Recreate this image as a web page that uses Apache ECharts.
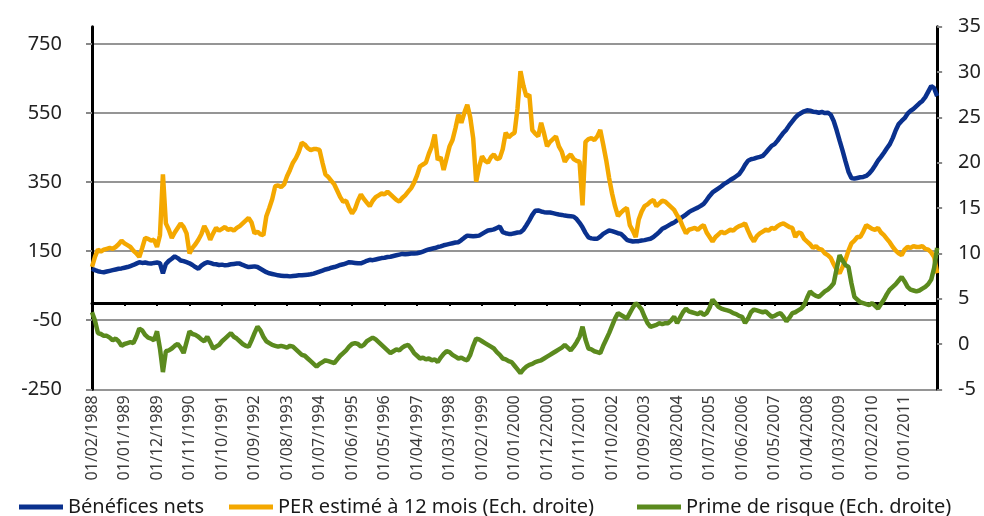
<!DOCTYPE html>
<html>
<head>
<meta charset="utf-8">
<script src="https://cdn.jsdelivr.net/npm/echarts@6/dist/echarts.min.js"></script>
<style>
html,body{margin:0;padding:0;background:#fff;}
#chart{width:984px;height:516px;}
</style>
</head>
<body>
<div id="chart"></div>
<script>
// Monthly categories, Feb 1988 .. Dec 2011
const startYear = 1988, startMonth = 2, nMonths = 287;
const categories = [];
for (let k = 0; k < nMonths; k++) {
  const t = (startMonth - 1) + k;
  const m = t % 12 + 1;
  const y = startYear + Math.floor(t / 12);
  categories.push('01/' + (m < 10 ? '0' + m : m) + '/' + y);
}

const seriesNames = ['Bénéfices nets', 'PER estimé à 12 mois (Ech. droite)', 'Prime de risque (Ech. droite)'];

const leftTicks = [-250, -50, 150, 350, 550, 750];

const benefices = [
99,95,92,90,89,91,93,95,97,99,
100,102,104,107,110,114,118,116,117,115,
114,116,117,115,86,113,122,128,135,130,
123,121,118,115,110,104,99,108,114,118,
116,113,112,110,111,109,110,112,113,114,
114,110,107,104,105,106,104,99,94,89,
86,84,82,80,79,78,78,77,78,79,
80,80,81,82,83,85,88,91,94,97,
99,102,104,107,110,112,115,118,117,116,
115,115,118,122,125,124,126,128,130,131,
133,134,136,138,140,142,141,142,143,143,
144,146,149,152,155,157,159,162,164,167,
169,171,173,175,176,182,189,195,194,193,
194,195,200,205,210,211,213,217,221,205,
202,200,200,202,204,205,212,225,239,255,
267,268,265,263,262,262,260,258,256,255,
253,252,251,250,243,232,219,203,190,187,
186,186,192,200,205,210,208,205,202,200,
192,183,180,178,179,179,181,182,184,186,
191,198,206,215,219,224,229,233,239,244,
250,256,263,268,272,276,281,287,298,310,
320,326,332,338,345,350,356,361,367,373,
385,400,412,416,418,421,423,426,435,445,
455,460,470,482,493,502,515,526,537,545,
550,555,558,557,554,553,551,553,550,551,
545,527,500,470,441,410,380,362,360,362,
364,365,368,375,385,398,412,423,435,448,
460,478,500,518,527,535,548,556,562,570,
578,585,596,612,628,622,599
];

const per = [
8.5,9.6,10.4,10.2,10.4,10.5,10.6,10.5,10.7,11.0,
11.4,11.1,10.9,10.7,10.3,10.0,9.6,10.6,11.7,11.6,
11.4,11.5,10.7,12.0,18.7,13.3,12.6,11.7,12.3,12.8,
13.3,12.9,12.2,10.0,10.6,11.0,11.5,12.1,13.0,12.4,
11.5,12.2,12.8,12.5,12.7,12.9,12.6,12.7,12.5,12.8,
13.0,13.3,13.6,13.9,13.4,12.2,12.4,12.1,12.0,14.1,
15.0,16.0,17.4,17.5,17.3,17.6,18.5,19.2,20.0,20.5,
21.2,22.2,22.0,21.6,21.4,21.5,21.5,21.4,20.0,18.7,
18.4,18.0,17.6,16.9,16.2,15.7,15.8,15.0,14.4,14.9,
15.8,16.5,16.0,15.6,15.2,15.8,16.2,16.4,16.6,16.5,
16.8,16.5,16.2,15.9,15.7,16.1,16.4,16.8,17.2,17.8,
18.6,19.6,19.8,20.0,21.0,21.8,23.1,20.3,20.6,19.2,
20.5,21.8,22.5,23.8,25.3,24.4,25.5,26.4,25.0,22.7,
17.9,19.5,20.7,20.2,20.0,20.6,20.9,20.4,20.5,21.5,
23.3,22.8,23.1,23.3,26.0,30.1,28.5,27.3,27.5,23.6,
23.2,22.9,24.4,23.2,21.8,22.3,22.6,22.9,21.8,21.2,
20.1,20.6,20.9,20.4,20.2,20.1,15.3,22.3,22.6,22.7,
22.5,22.9,23.6,22.0,20.3,18.3,16.6,15.2,14.1,14.5,
14.8,15.0,13.1,12.5,11.8,13.7,14.6,15.2,15.4,15.7,
15.9,15.2,15.5,15.8,15.7,15.4,15.1,14.8,14.2,13.7,
12.9,12.2,12.6,12.7,12.8,12.6,12.9,13.1,12.3,11.8,
11.3,11.8,12.1,12.4,12.2,12.4,12.6,12.5,12.8,13.0,
13.1,13.3,12.5,11.8,11.3,11.9,12.2,12.4,12.6,12.5,
12.8,12.7,13.0,13.2,13.3,13.1,12.9,12.8,11.8,12.3,
12.2,11.6,11.3,11.0,10.6,10.8,10.5,10.4,10.0,9.8,
9.5,8.8,8.2,7.8,8.5,9.3,10.3,11.1,11.4,11.8,
11.8,12.4,13.1,12.9,12.7,12.6,12.8,12.3,12.0,11.6,
11.2,10.7,10.3,10.0,9.8,10.4,10.7,10.6,10.8,10.7,
10.7,10.8,10.5,10.4,10.1,9.6,7.8
];

const prime = [
3.5,2.6,1.2,1.1,0.9,0.9,0.7,0.4,0.6,0.3,
-0.2,0.0,0.1,0.2,0.1,0.8,1.7,1.5,1.0,0.7,
0.6,0.4,1.4,-0.5,-3.1,-0.8,-0.7,-0.5,-0.2,0.0,
-0.4,-1.0,0.2,1.4,1.1,1.0,0.8,0.5,0.3,0.8,
0.2,-0.5,-0.3,-0.1,0.3,0.6,0.9,1.2,0.8,0.6,
0.3,0.0,-0.2,-0.3,0.4,1.2,1.9,1.5,0.8,0.3,
0.1,-0.1,-0.2,-0.3,-0.2,-0.3,-0.4,-0.2,-0.3,-0.6,
-0.9,-1.2,-1.3,-1.6,-1.9,-2.2,-2.5,-2.2,-2.0,-1.8,
-1.9,-2.0,-2.1,-1.7,-1.3,-1.0,-0.7,-0.3,0.0,0.1,
0.0,-0.3,-0.1,0.3,0.5,0.7,0.5,0.2,-0.1,-0.4,
-0.7,-1.0,-0.8,-0.6,-0.7,-0.4,-0.2,-0.1,-0.5,-1.0,
-1.3,-1.6,-1.5,-1.7,-1.6,-1.8,-1.7,-2.0,-1.5,-1.1,
-0.8,-0.9,-1.2,-1.4,-1.6,-1.5,-1.7,-1.8,-1.2,-0.2,
0.6,0.5,0.3,0.1,-0.1,-0.3,-0.5,-0.9,-1.2,-1.6,
-1.7,-1.9,-2.0,-2.4,-2.8,-3.2,-2.8,-2.5,-2.3,-2.2,
-2.0,-1.9,-1.8,-1.6,-1.4,-1.2,-1.0,-0.8,-0.6,-0.4,
-0.1,-0.4,-0.7,-0.3,0.2,0.8,1.9,0.5,-0.5,-0.6,
-0.8,-0.9,-1.0,-0.2,0.5,1.2,2.0,2.8,3.4,3.2,
3.0,2.8,3.4,4.0,4.5,4.2,3.8,3.0,2.3,1.9,
2.0,2.1,2.3,2.2,2.3,2.3,2.6,3.0,2.3,2.9,
3.5,3.9,3.6,3.5,3.4,3.3,3.5,3.2,3.4,4.0,
4.9,4.5,4.1,3.9,3.8,3.7,3.6,3.4,3.3,3.1,
3.0,2.3,2.8,3.5,3.8,3.7,3.6,3.5,3.6,3.3,
3.0,3.1,3.3,3.4,3.0,2.5,2.9,3.4,3.5,3.7,
3.9,4.3,5.1,5.8,5.5,5.3,5.2,5.5,5.8,6.0,
6.3,6.7,8.3,9.8,9.2,8.7,8.5,6.7,5.2,4.9,
4.6,4.5,4.4,4.3,4.5,4.2,3.9,4.4,4.9,5.5,
6.0,6.3,6.6,7.0,7.4,6.9,6.3,6.0,5.9,5.8,
5.9,6.1,6.3,6.6,7.1,8.4,10.6
];

const colors = ['#0a318e', '#f4a800', '#5b8a1e'];
const FONT = 'Noto Sans';

const chart = echarts.init(document.getElementById('chart'), null, {renderer: 'canvas'});

function legendItem(i, left) {
  return {
    data: [seriesNames[i]],
    left: left,
    top: 492,
    icon: 'rect',
    itemWidth: 44,
    itemHeight: 5,
    selectedMode: false,
    textStyle: {fontFamily: FONT, fontSize: 20, color: '#1a1a1a'}
  };
}

chart.setOption({
  animation: false,
  color: colors,
  grid: {left: 92, right: 41.3, top: 26.7, bottom: 126.7, containLabel: false},
  legend: [legendItem(0, 14), legendItem(1, 224), legendItem(2, 632)],
  xAxis: [
    {
      type: 'category',
      data: categories,
      boundaryGap: false,
      position: 'bottom',
      axisLine: {show: false, onZero: false},
      axisTick: {show: false},
      splitLine: {show: false},
      axisLabel: {
        interval: 10, rotate: 90, margin: 6, showMaxLabel: false,
        fontFamily: FONT, fontSize: 16, color: '#3a3a3a'
      }
    },
    {
      type: 'category',
      data: categories,
      boundaryGap: false,
      position: 'bottom',
      axisLine: {show: true, onZero: true, onZeroAxisIndex: 0, lineStyle: {color: '#000', width: 3}},
      axisTick: {show: true, interval: 10, length: 3, lineStyle: {color: '#000', width: 2}},
      axisLabel: {show: false},
      splitLine: {show: false}
    }
  ],
  yAxis: [
    {
      type: 'value',
      position: 'left',
      min: -250,
      max: 800,
      axisLine: {show: true, onZero: false, lineStyle: {color: '#000', width: 3}},
      axisTick: {show: true, customValues: leftTicks, length: 6, lineStyle: {color: '#888', width: 2}},
      axisLabel: {customValues: leftTicks, margin: 30, fontFamily: FONT, fontSize: 20, color: '#222'},
      splitLine: {show: true, lineStyle: {color: '#959595', width: 2}}
    },
    {
      type: 'value',
      position: 'right',
      min: -5,
      max: 35,
      interval: 5,
      axisLine: {show: true, onZero: false, lineStyle: {color: '#000', width: 3}},
      axisTick: {show: true, length: 5, lineStyle: {color: '#888', width: 2}},
      axisLabel: {margin: 21, fontFamily: FONT, fontSize: 20, color: '#222'},
      splitLine: {show: false}
    }
  ],
  series: [
    {name: seriesNames[0], type: 'line', yAxisIndex: 0, data: benefices, showSymbol: false, lineStyle: {width: 4.5, color: colors[0]}, itemStyle: {color: colors[0]}},
    {name: seriesNames[1], type: 'line', yAxisIndex: 1, data: per, showSymbol: false, lineStyle: {width: 4.5, color: colors[1]}, itemStyle: {color: colors[1]}},
    {name: seriesNames[2], type: 'line', yAxisIndex: 1, data: prime, showSymbol: false, lineStyle: {width: 4.5, color: colors[2]}, itemStyle: {color: colors[2]}}
  ]
});
</script>
</body>
</html>
